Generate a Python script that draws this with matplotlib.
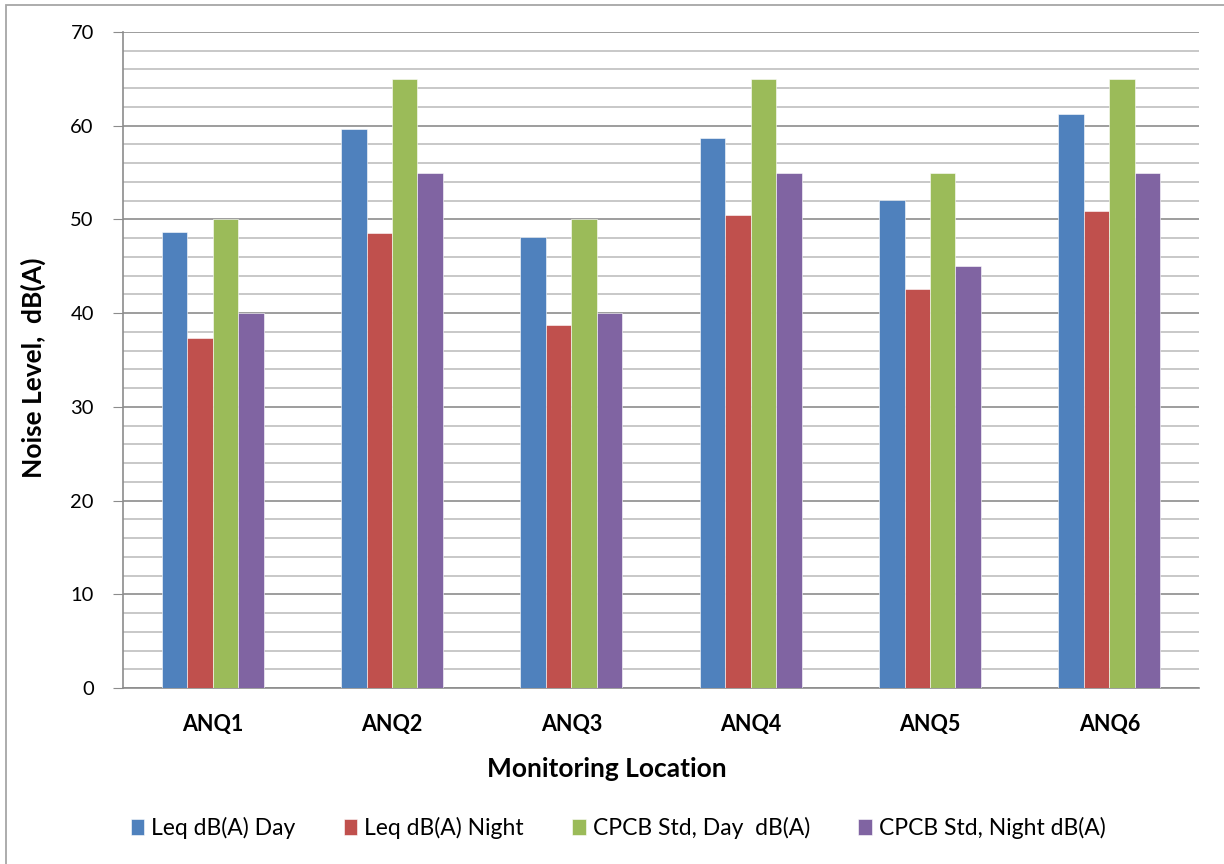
import matplotlib
matplotlib.use("Agg")
import matplotlib.pyplot as plt
import numpy as np
from matplotlib.patches import Rectangle

locations = ["ANQ1", "ANQ2", "ANQ3", "ANQ4", "ANQ5", "ANQ6"]
leq_day = [48.7, 59.7, 48.1, 58.7, 52.1, 61.3]
leq_night = [37.3, 48.5, 38.7, 50.5, 42.6, 50.9]
cpcb_day = [50, 65, 50, 65, 55, 65]
cpcb_night = [40, 55, 40, 55, 45, 55]
series_names = ["Leq dB(A) Day", "Leq dB(A) Night",
                "CPCB Std, Day  dB(A)", "CPCB Std, Night dB(A)"]
colors = ["#4F81BD", "#C0504D", "#9BBB59", "#8064A2"]

plt.rcParams["font.family"] = ["Lato", "DejaVu Sans"]

W, H = 1224, 864
fig = plt.figure(figsize=(W / 100, H / 100), dpi=100)
ax = fig.add_axes([123 / W, 1 - 688 / H, (1199 - 123) / W, (688 - 32) / H])

# outer chart border (runs off the right and bottom edges)
fig.patches.append(Rectangle((6 / W, -0.05), 1.2, 1 - 5 / H + 0.05,
                             transform=fig.transFigure, fill=False,
                             edgecolor="#A6A6A6", linewidth=1.3))

x = np.arange(len(locations))
width = 0.142
for i, (vals, name, c) in enumerate(zip([leq_day, leq_night, cpcb_day, cpcb_night],
                                        series_names, colors)):
    ax.bar(x + (i - 1.5) * width, vals, width, color=c, label=name,
           edgecolor="white", linewidth=0.4, zorder=3)

ax.set_xlim(-0.5, len(locations) - 0.5)
ax.set_ylim(0, 70)
ax.set_yticks(np.arange(0, 71, 10))
ax.set_yticks(np.arange(0, 71, 2), minor=True)
ax.grid(axis="y", which="major", color="#8C8C8C", linewidth=1.2, zorder=0)
ax.grid(axis="y", which="minor", color="#BFBFBF", linewidth=1.2, zorder=0)
ax.set_axisbelow(True)

for side in ["top", "right"]:
    ax.spines[side].set_visible(False)
for side in ["left", "bottom"]:
    ax.spines[side].set_color("#8C8C8C")
    ax.spines[side].set_linewidth(1.2)

ax.set_xticks(x)
ax.set_xticklabels(locations, fontsize=15.5, fontweight="bold")
ax.tick_params(axis="x", length=0, pad=19)
ax.tick_params(axis="y", which="major", length=7, color="#8C8C8C", pad=14,
               labelsize=14.5)
ax.tick_params(axis="y", which="minor", length=0)

ax.set_ylabel("Noise Level,  dB(A)", fontsize=19, fontweight="bold")
ax.yaxis.set_label_coords(-(123 - 46) / 1076, (688 - 368) / 656)
ax.set_xlabel("Monitoring Location", fontsize=19, fontweight="bold")
ax.xaxis.set_label_coords((607 - 123) / 1076, -(769 - 688) / 656)
ax.xaxis.label.set_verticalalignment("center")

fig.legend(loc="center", bbox_to_anchor=(618 / W, 1 - 828 / H), ncol=4,
           frameon=False, fontsize=16.5, handlelength=0.6, handleheight=0.75,
           handletextpad=0.3, columnspacing=2.1)

fig.savefig("out.png", dpi=100)
